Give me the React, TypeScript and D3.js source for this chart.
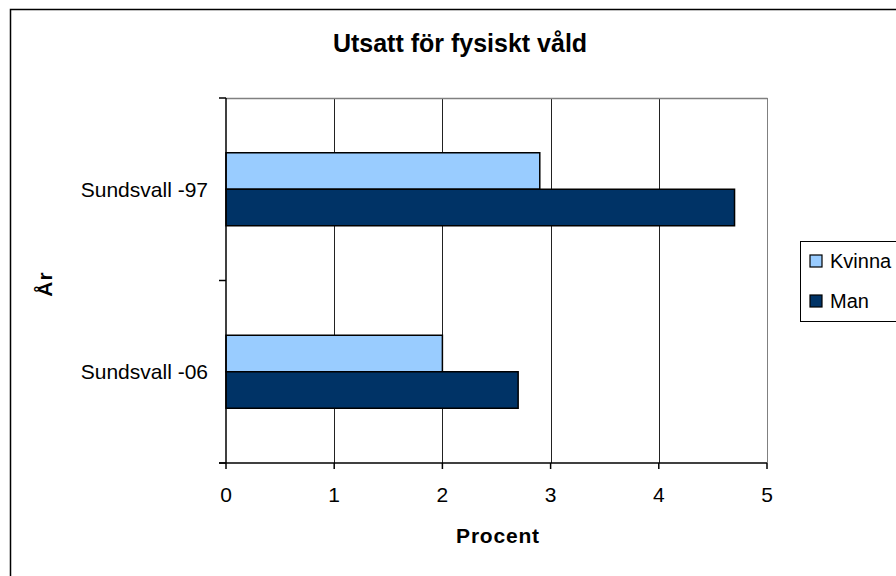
import React, { useEffect, useRef } from 'react';
import * as d3 from 'd3';

// data
const categories = ['Sundsvall -97', 'Sundsvall -06'];
const seriesNames = ['Kvinna', 'Man'];
const kvinnaValues = [2.9, 2.0];
const manValues = [4.7, 2.7];
const xTicks = [0, 1, 2, 3, 4, 5];
const seriesColors = ['#99CCFF', '#003366'];

const chartTitle = 'Utsatt för fysiskt våld';
const xTitle = 'Procent';
const yTitle = 'År';

const App = () => {
    const ref = useRef<SVGSVGElement | null>(null);

    useEffect(() => {
        const svg = d3.select(ref.current);
        svg.selectAll('*').remove();

        const font = '"Liberation Sans", Arial, sans-serif';
        const plot = { left: 226, right: 767, top: 98, bottom: 463 };

        const x = d3.scaleLinear().domain([0, 5]).range([plot.left, plot.right]);
        const y0 = d3.scaleBand<string>()
            .domain(categories)
            .range([plot.top, plot.bottom])
            .paddingInner(0.6)
            .paddingOuter(0.3);
        const y1 = d3.scaleBand<string>().domain(seriesNames).range([0, y0.bandwidth()]);
        const color = d3.scaleOrdinal<string, string>().domain(seriesNames).range(seriesColors);

        const rows = categories.map((c, i) => ({
            category: c,
            values: [
                { name: seriesNames[0], value: kvinnaValues[i] },
                { name: seriesNames[1], value: manValues[i] },
            ],
        }));

        // outer chart border (runs off the page on the right and bottom)
        svg.append('rect')
            .attr('x', 10.5).attr('y', 9.5)
            .attr('width', 900).attr('height', 600)
            .attr('fill', '#fff')
            .attr('stroke', '#000')
            .attr('stroke-width', 1.5);

        // title
        svg.append('text')
            .attr('x', 460).attr('y', 52)
            .attr('text-anchor', 'middle')
            .attr('font-family', font)
            .attr('font-size', 25)
            .attr('font-weight', 'bold')
            .text(chartTitle);

        // vertical gridlines
        svg.append('g')
            .selectAll('line')
            .data(xTicks.slice(1))
            .enter().append('line')
            .attr('x1', d => Math.round(x(d)) + 0.5)
            .attr('x2', d => Math.round(x(d)) + 0.5)
            .attr('y1', plot.top)
            .attr('y2', plot.bottom)
            .attr('stroke', d => (d === 5 ? '#808080' : '#222'))
            .attr('stroke-width', 1);

        // plot border top
        svg.append('line')
            .attr('x1', plot.left).attr('x2', plot.right + 0.5)
            .attr('y1', plot.top + 0.5).attr('y2', plot.top + 0.5)
            .attr('stroke', '#808080')
            .attr('stroke-width', 1.5);

        // bars
        const groups = svg.append('g')
            .selectAll('g')
            .data(rows)
            .enter().append('g')
            .attr('transform', d => `translate(0,${y0(d.category)})`);

        groups.selectAll('rect')
            .data(d => d.values)
            .enter().append('rect')
            .attr('x', x(0))
            .attr('y', d => y1(d.name)!)
            .attr('width', d => x(d.value) - x(0))
            .attr('height', y1.bandwidth())
            .attr('fill', d => color(d.name))
            .attr('stroke', '#000')
            .attr('stroke-width', 1.5);

        // y axis
        const step = y0.step();
        const yTickPos = d3.range(categories.length + 1).map(i => plot.top + i * step);
        svg.append('line')
            .attr('x1', plot.left).attr('x2', plot.left)
            .attr('y1', plot.top).attr('y2', plot.bottom)
            .attr('stroke', '#000').attr('stroke-width', 1.5);
        svg.append('g')
            .selectAll('line')
            .data(yTickPos)
            .enter().append('line')
            .attr('x1', plot.left - 7).attr('x2', plot.left)
            .attr('y1', d => d).attr('y2', d => d)
            .attr('stroke', '#000').attr('stroke-width', 1.5);
        svg.append('g')
            .selectAll('text')
            .data(categories)
            .enter().append('text')
            .attr('x', 208)
            .attr('y', d => y0(d)! + y0.bandwidth() / 2)
            .attr('dy', '0.36em')
            .attr('text-anchor', 'end')
            .attr('font-family', font)
            .attr('font-size', 21)
            .text(d => d);

        // x axis
        svg.append('line')
            .attr('x1', plot.left - 7).attr('x2', plot.right)
            .attr('y1', plot.bottom).attr('y2', plot.bottom)
            .attr('stroke', '#000').attr('stroke-width', 1.5);
        svg.append('g')
            .selectAll('line')
            .data(xTicks)
            .enter().append('line')
            .attr('x1', d => x(d)).attr('x2', d => x(d))
            .attr('y1', plot.bottom).attr('y2', plot.bottom + 6)
            .attr('stroke', '#000').attr('stroke-width', 1.5);
        svg.append('g')
            .selectAll('text')
            .data(xTicks)
            .enter().append('text')
            .attr('x', d => x(d))
            .attr('y', 502)
            .attr('text-anchor', 'middle')
            .attr('font-family', font)
            .attr('font-size', 21)
            .text(d => d);

        // axis titles
        svg.append('text')
            .attr('x', 498).attr('y', 543)
            .attr('text-anchor', 'middle')
            .attr('font-family', font)
            .attr('font-size', 21)
            .attr('font-weight', 'bold')
            .attr('letter-spacing', 0.8)
            .text(xTitle);

        svg.append('text')
            .attr('transform', 'translate(52,284) rotate(-90)')
            .attr('text-anchor', 'middle')
            .attr('font-family', font)
            .attr('font-size', 21)
            .attr('font-weight', 'bold')
            .attr('letter-spacing', 1)
            .text(yTitle);

        // legend
        const legend = svg.append('g').attr('transform', 'translate(800,241)');
        legend.append('rect')
            .attr('x', 0.5).attr('y', 0.5)
            .attr('width', 140).attr('height', 80)
            .attr('fill', '#fff')
            .attr('stroke', '#000')
            .attr('stroke-width', 1);
        const items = legend.selectAll('g.item')
            .data(seriesNames)
            .enter().append('g')
            .attr('class', 'item')
            .attr('transform', (d, i) => `translate(10,${14 + i * 40})`);
        items.append('rect')
            .attr('width', 12).attr('height', 12)
            .attr('fill', d => color(d))
            .attr('stroke', '#000')
            .attr('stroke-width', 1.2);
        items.append('text')
            .attr('x', 20).attr('y', 6)
            .attr('dy', '0.36em')
            .attr('font-family', font)
            .attr('font-size', 20)
            .text(d => d);
    }, []);

    return (
        <div style={{ position: 'fixed', left: 0, top: 0 }}>
            <svg ref={ref} width={896} height={576} style={{ display: 'block' }} />
        </div>
    );
};

export default App;
